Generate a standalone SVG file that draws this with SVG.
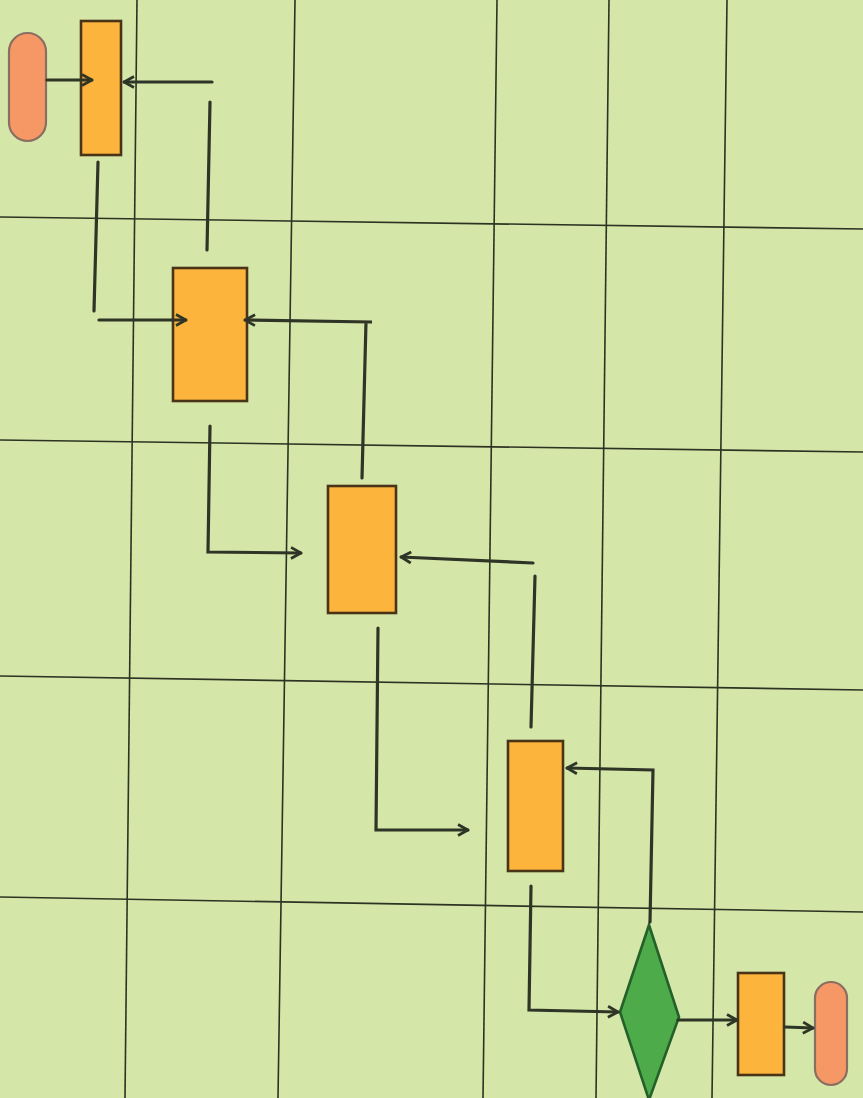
<svg xmlns="http://www.w3.org/2000/svg" width="863" height="1098" viewBox="0 0 863 1098">
<defs>
<style>
.grid{stroke:#2c3322;stroke-width:1.6;fill:none}
.conn{stroke:#2f3526;stroke-width:3.2;fill:none;stroke-linecap:round;stroke-linejoin:miter}
.proc{fill:#fcb43c;stroke:#4a3418;stroke-width:2.6}
.term{fill:#f59866;stroke:#8a6e62;stroke-width:2.2}
.dec{fill:#4dab4a;stroke:#25602a;stroke-width:2.6}
</style>
<marker id="arr" viewBox="0 0 14 14" refX="13" refY="7" markerWidth="14" markerHeight="14" markerUnits="userSpaceOnUse" orient="auto">
<path d="M3,1.5 L13,7 L3,12.5" fill="none" stroke="#2f3526" stroke-width="2.8"/>
</marker>
</defs>
<rect x="0" y="0" width="863" height="1098" fill="#d5e6a9"/>
<g id="grid">
<line class="grid" x1="137" y1="0" x2="125" y2="1098"/>
<line class="grid" x1="295" y1="0" x2="278" y2="1098"/>
<line class="grid" x1="497" y1="0" x2="483" y2="1098"/>
<line class="grid" x1="609" y1="0" x2="596" y2="1098"/>
<line class="grid" x1="727" y1="0" x2="712" y2="1098"/>
<line class="grid" x1="0" y1="217" x2="863" y2="229"/>
<line class="grid" x1="0" y1="440" x2="863" y2="452"/>
<line class="grid" x1="0" y1="676" x2="863" y2="690"/>
<line class="grid" x1="0" y1="897" x2="863" y2="912"/>
</g>
<g id="start"><rect class="term" x="9" y="33" width="37" height="108" rx="18.5" ry="18.5"/></g>
<g id="step1"><rect class="proc" x="81" y="21" width="40" height="134"/></g>
<g id="step2"><rect class="proc" x="173" y="268" width="74" height="133"/></g>
<g id="step3"><rect class="proc" x="328" y="486" width="68" height="127"/></g>
<g id="step4"><rect class="proc" x="508" y="741" width="55" height="130"/></g>
<g id="decision"><polygon class="dec" points="649,925 679,1017 649,1100 620,1012"/></g>
<g id="step5"><rect class="proc" x="738" y="973" width="46" height="102"/></g>
<g id="end"><rect class="term" x="815" y="982" width="32" height="103" rx="16" ry="16"/></g>
<g id="connectors">
<line class="conn" x1="47" y1="80" x2="92" y2="80" marker-end="url(#arr)"/>
<line class="conn" x1="212" y1="82" x2="124" y2="82" marker-end="url(#arr)"/>
<line class="conn" x1="210" y1="102" x2="207" y2="250"/>
<line class="conn" x1="98" y1="162" x2="94" y2="311"/>
<line class="conn" x1="99" y1="320" x2="186" y2="320" marker-end="url(#arr)"/>
<polyline class="conn" points="362,478 366,322 372,322 245,320" marker-end="url(#arr)"/>
<polyline class="conn" points="210,426 208,552 301,553" marker-end="url(#arr)"/>
<line class="conn" x1="533" y1="563" x2="401" y2="557" marker-end="url(#arr)"/>
<line class="conn" x1="535" y1="576" x2="531" y2="727"/>
<polyline class="conn" points="378,628 376,830 468,830" marker-end="url(#arr)"/>
<polyline class="conn" points="650,922 653,770 567,768" marker-end="url(#arr)"/>
<polyline class="conn" points="531,886 529,1010 618,1012" marker-end="url(#arr)"/>
<line class="conn" x1="678" y1="1020" x2="737" y2="1020" marker-end="url(#arr)"/>
<line class="conn" x1="785" y1="1027" x2="813" y2="1028" marker-end="url(#arr)"/>
</g>
</svg>
